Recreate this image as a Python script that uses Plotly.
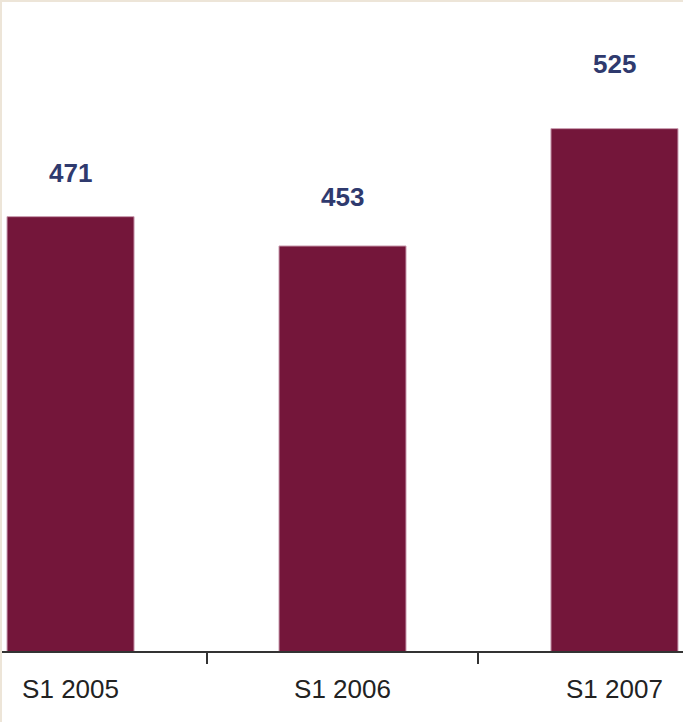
import plotly.graph_objects as go

# Half-year totals
periods = ["S1 2005", "S1 2006", "S1 2007"]
values = [471, 453, 525]

# Vertical pixel offsets of the value labels above each bar
label_shift = [44, 49, 65]

BAR = "#74163A"
LABEL = "#2F3A6E"

fig = go.Figure(
    go.Bar(
        x=periods,
        y=values,
        width=0.467,
        marker=dict(color=BAR, line=dict(color="#C99AAE", width=1)),
        hoverinfo="skip",
    )
)

for p, v, s in zip(periods, values, label_shift):
    fig.add_annotation(
        x=p, y=v, text=str(v), showarrow=False, yshift=s,
        font=dict(family="Liberation Sans, Arial", size=26, color=LABEL, weight="bold"),
    )

# thin beige frame along the top and left edges
frame = "#EDE5D8"
fig.add_shape(type="line", xref="paper", yref="paper", x0=-2/681, x1=1, y0=1 + 1/649, y1=1 + 1/649,
              line=dict(color=frame, width=2))
fig.add_shape(type="line", xref="paper", yref="paper", x0=-1/681, x1=-1/681, y0=-71/649, y1=1 + 2/649,
              line=dict(color=frame, width=2))

fig.update_layout(
    width=683, height=722,
    margin=dict(l=2, r=0, t=2, b=71),
    paper_bgcolor="white", plot_bgcolor="white",
    showlegend=False,
    xaxis=dict(
        range=[-0.252, 2.252],
        showline=True, linecolor="#333333", linewidth=2,
        ticks="outside", tickson="boundaries", ticklen=11, tickwidth=2, tickcolor="#333333",
        ticklabelstandoff=14,
        tickfont=dict(family="Liberation Sans, Arial", size=26, color="#222222"),
        showgrid=False, zeroline=False,
    ),
    yaxis=dict(
        range=[204.5, 602.7], visible=False, showgrid=False, zeroline=False,
    ),
)

fig.write_html("out.html")
